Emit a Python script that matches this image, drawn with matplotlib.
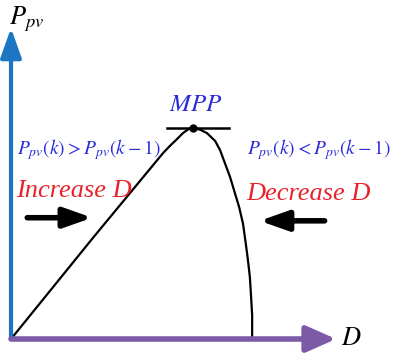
import matplotlib.pyplot as plt

plt.rcParams['mathtext.fontset'] = 'stix'

# P-V characteristic of the PV panel, normalised duty ratio vs. normalised power
duty = [0.0, 0.252, 0.468, 0.489, 0.511, 0.529, 0.545, 0.560, 0.582, 0.603,
        0.628, 0.643, 0.658, 0.674, 0.689, 0.702, 0.714, 0.723, 0.729, 0.735,
        0.738, 0.742, 0.742]
power = [0.0, 0.325, 0.598, 0.621, 0.643, 0.662, 0.674, 0.678, 0.673, 0.662,
         0.637, 0.608, 0.566, 0.521, 0.469, 0.424, 0.370, 0.302, 0.254, 0.199,
         0.148, 0.077, 0.0]
mpp_duty, mpp_power = 0.560, 0.678

left_text = r'$P_{pv}(k)>P_{pv}(k-1)$'
right_text = r'$P_{pv}(k)<P_{pv}(k-1)$'
left_action = 'Increase D'
right_action = 'Decrease D'

fig = plt.figure(figsize=(3.98, 3.53), dpi=100)
ax = fig.add_axes([11 / 398, 14 / 353, 325 / 398, 311 / 353])
ax.set_xlim(0, 1)
ax.set_ylim(0, 1)
ax.axis('off')

serif = 'Liberation Serif'
blue = '#2b2bd8'
red = '#e8212b'

# axes arrows
ax.annotate('', xy=(0, 1.0), xytext=(0, 0), annotation_clip=False,
            arrowprops=dict(arrowstyle='-|>,head_length=0.9,head_width=0.32',
                            color='#1c76c4', lw=3, mutation_scale=20,
                            shrinkA=0, shrinkB=0))
ax.annotate('', xy=(1.0, 0), xytext=(0, 0), annotation_clip=False,
            arrowprops=dict(arrowstyle='-|>,head_length=0.9,head_width=0.4',
                            color='#7d5aa6', lw=4, mutation_scale=20,
                            shrinkA=0, shrinkB=0))
ax.text(1.015, 0.003, '$D$', fontsize=19, ha='left', va='center', clip_on=False)
ax.text(-0.005, 1.075, '$P_{pv}$', fontsize=19, ha='left', va='top', clip_on=False)

# curve and MPP
ax.plot(duty, power, color='black', lw=1.6, solid_capstyle='round',
        solid_joinstyle='round', clip_on=False)
ax.plot([mpp_duty - 0.08, mpp_duty + 0.11], [mpp_power, mpp_power], color='black', lw=1.8)
ax.plot(mpp_duty, mpp_power, 'o', color='black', ms=5)
ax.text(mpp_duty + 0.01, mpp_power + 0.04, '$MPP$', color=blue, fontsize=18,
        ha='center', va='bottom')

# region annotations
ax.text(0.018, 0.57, left_text, color=blue, fontsize=14, ha='left', va='bottom')
ax.text(0.726, 0.57, right_text, color=blue, fontsize=14, ha='left', va='bottom')
ax.text(0.015, 0.44, left_action, color=red, fontsize=19, style='italic',
        family=serif, ha='left', va='bottom')
ax.text(0.725, 0.43, right_action, color=red, fontsize=19, style='italic',
        family=serif, ha='left', va='bottom')

ax.annotate('', xy=(0.25, 0.39), xytext=(0.05, 0.39),
            arrowprops=dict(arrowstyle='-|>,head_length=0.85,head_width=0.3',
                            color='black', lw=4, mutation_scale=20,
                            shrinkA=0, shrinkB=0))
ax.annotate('', xy=(0.765, 0.38), xytext=(0.965, 0.38),
            arrowprops=dict(arrowstyle='-|>,head_length=0.85,head_width=0.3',
                            color='black', lw=4, mutation_scale=20,
                            shrinkA=0, shrinkB=0))

fig.savefig('out.png', dpi=100)
